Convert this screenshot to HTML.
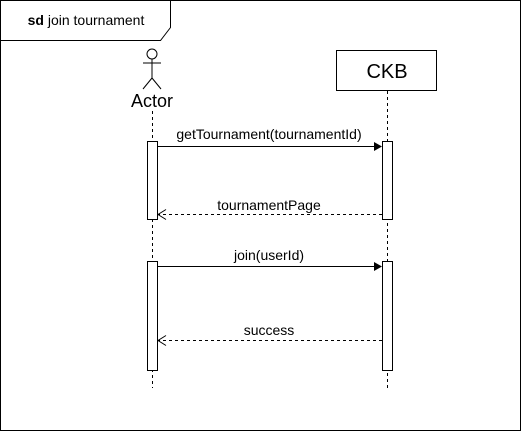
<!DOCTYPE html>
<html><head><style>body{margin:0;background:#fff}</style></head><body>
<svg width="522" height="432" xmlns="http://www.w3.org/2000/svg" font-family="Liberation Sans, sans-serif">
<rect x="0.5" y="0.5" width="520" height="430" fill="#fff" stroke="#000"/>
<path d="M0.5 40.5 H160.5 L170.5 27.5 V0.5" fill="none" stroke="#000"/>
<text x="86" y="25" font-size="14" text-anchor="middle"><tspan font-weight="bold">sd</tspan> join tournament</text>
<g stroke="#000" fill="none">
<circle cx="152" cy="54" r="5" fill="#fff"/>
<line x1="152" y1="59" x2="152" y2="78"/>
<line x1="143" y1="63" x2="161" y2="63"/>
<line x1="152" y1="78" x2="143" y2="89"/>
<line x1="152" y1="78" x2="161" y2="89"/>
<line x1="152.5" y1="111" x2="152.5" y2="388" stroke-dasharray="3,3"/>
<rect x="336.5" y="50.5" width="100" height="40" fill="#fff"/>
<line x1="387.5" y1="91" x2="387.5" y2="388" stroke-dasharray="3,3"/>
<rect x="147.5" y="141.5" width="10" height="78" fill="#fff"/>
<rect x="382.5" y="141.5" width="10" height="78" fill="#fff"/>
<rect x="147.5" y="261.5" width="10" height="109" fill="#fff"/>
<rect x="382.5" y="261.5" width="10" height="109" fill="#fff"/>
<line x1="158" y1="146.5" x2="374" y2="146.5"/>
<line x1="382" y1="214.5" x2="158" y2="214.5" stroke-dasharray="3,3"/>
<path d="M166 209.5 L158 214.5 L166 219.5"/>
<line x1="158" y1="266.5" x2="374" y2="266.5"/>
<line x1="382" y1="340.5" x2="158" y2="340.5" stroke-dasharray="3,3"/>
<path d="M166 335.5 L158 340.5 L166 345.5"/>
</g>
<path d="M374 142 L382 146.5 L374 151 Z"/>
<path d="M374 262 L382 266.5 L374 271 Z"/>
<text x="152" y="107" font-size="18" text-anchor="middle">Actor</text>
<text x="387" y="78" font-size="20" text-anchor="middle">CKB</text>
<g font-size="14" text-anchor="middle">
<text x="269" y="139">getTournament(tournamentId)</text>
<text x="269" y="210">tournamentPage</text>
<text x="269" y="260">join(userId)</text>
<text x="269" y="335">success</text>
</g>
</svg>
</body></html>
